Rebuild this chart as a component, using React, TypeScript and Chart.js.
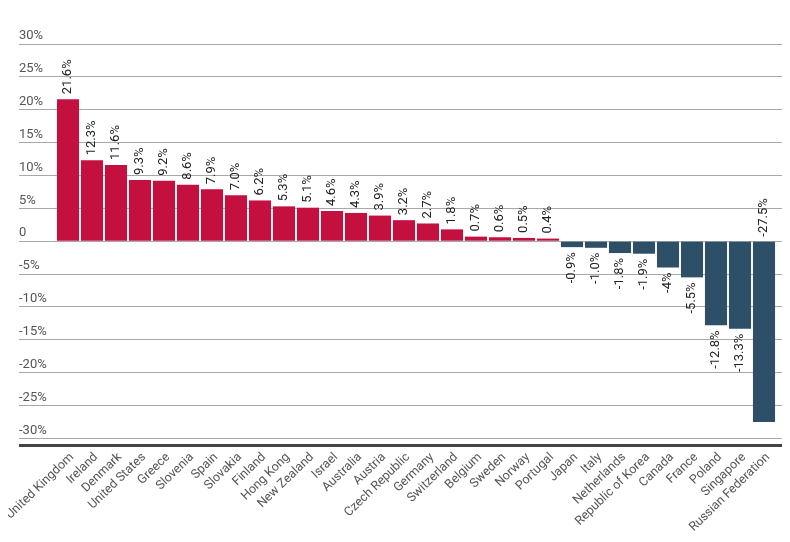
import React, { useEffect, useRef } from "react";
import { Chart, registerables } from "chart.js";

Chart.register(...registerables);

const countries = [
  "United Kingdom", "Ireland", "Denmark", "United States", "Greece", "Slovenia", "Spain", "Slovakia",
  "Finland", "Hong Kong", "New Zealand", "Israel", "Australia", "Austria", "Czech Republic", "Germany",
  "Switzerland", "Belgium", "Sweden", "Norway", "Portugal", "Japan", "Italy", "Netherlands",
  "Republic of Korea", "Canada", "France", "Poland", "Singapore", "Russian Federation",
];
const changes = [
  21.6, 12.3, 11.6, 9.3, 9.2, 8.6, 7.9, 7.0, 6.2, 5.3, 5.1, 4.6, 4.3, 3.9, 3.2, 2.7,
  1.8, 0.7, 0.6, 0.5, 0.4, -0.9, -1.0, -1.8, -1.9, -4, -5.5, -12.8, -13.3, -27.5,
];
const valueLabels = [
  "21.6%", "12.3%", "11.6%", "9.3%", "9.2%", "8.6%", "7.9%", "7.0%", "6.2%", "5.3%", "5.1%", "4.6%",
  "4.3%", "3.9%", "3.2%", "2.7%", "1.8%", "0.7%", "0.6%", "0.5%", "0.4%", "-0.9%", "-1.0%", "-1.8%",
  "-1.9%", "-4%", "-5.5%", "-12.8%", "-13.3%", "-27.5%",
];
const yTickValues = [-31, -30, -25, -20, -15, -10, -5, 0, 5, 10, 15, 20, 25, 30];
const yMin = -31;
const yMax = 30;

const POS_COLOR = "#c4103e";
const NEG_COLOR = "#2d5068";
const GRID_COLOR = "#a8a8a8";
const BASE_COLOR = "#444444";
const FONT = "Roboto";

const valueLabelPlugin = {
  id: "valueLabels",
  afterDatasetsDraw(chart: any) {
    const { ctx, chartArea } = chart;
    const meta = chart.getDatasetMeta(0);
    ctx.save();
    ctx.font = `13px ${FONT}`;
    ctx.fillStyle = "#222222";
    ctx.textBaseline = "middle";
    meta.data.forEach((bar: any, i: number) => {
      const v = changes[i];
      const text = valueLabels[i];
      const w = ctx.measureText(text).width;
      const gap = 5;
      let anchorY: number;
      let align: CanvasTextAlign;
      if (v >= 0) {
        anchorY = bar.y - gap;
        align = "left";
      } else {
        const end = Math.max(bar.y, bar.base);
        if (end + gap + w > chartArea.bottom - 4) {
          anchorY = Math.min(bar.y, bar.base) - gap;
          align = "left";
        } else {
          anchorY = end + gap;
          align = "right";
        }
      }
      ctx.save();
      ctx.translate(bar.x, anchorY);
      ctx.rotate(-Math.PI / 2);
      ctx.textAlign = align;
      ctx.fillText(text, 0, 0);
      ctx.restore();
    });
    ctx.restore();
  },
};

const gridColor = (c: any) => (c.tick && c.tick.value === yMin ? BASE_COLOR : GRID_COLOR);
const gridWidth = (c: any) => (c.tick && c.tick.value === yMin ? 3 : 1);

const noPad = (s: any) => {
  s.paddingLeft = 0;
  s.paddingRight = 0;
  s.paddingTop = 0;
  s.paddingBottom = 0;
};
const setTicks = (s: any) => {
  s.ticks = yTickValues.map((v) => ({ value: v }));
};

export default function App() {
  const ref = useRef<HTMLCanvasElement>(null);
  useEffect(() => {
    if (!ref.current) return;
    const chart = new Chart(ref.current, {
      type: "bar",
      data: {
        labels: countries,
        datasets: [
          {
            data: changes,
            backgroundColor: changes.map((v) => (v >= 0 ? POS_COLOR : NEG_COLOR)),
            borderWidth: 0,
            categoryPercentage: 1,
            barPercentage: 0.92,
          },
        ],
      },
      options: {
        animation: false,
        responsive: true,
        maintainAspectRatio: false,
        layout: { padding: { left: 19, top: 44, right: 7, bottom: 0 } },
        plugins: { legend: { display: false }, tooltip: { enabled: false } },
        scales: {
          x: {
            grid: { display: false, drawTicks: false },
            border: { display: false },
            ticks: {
              autoSkip: false,
              minRotation: 44,
              maxRotation: 44,
              padding: 5,
              labelOffset: 4,
              color: "#555555",
              font: { family: FONT, size: 12.5 },
            },
            afterFit: (s: any) => {
              s.height = 97;
              noPad(s);
            },
          },
          y: {
            position: "left",
            min: yMin,
            max: yMax,
            border: { display: false },
            grid: {
              color: gridColor,
              lineWidth: gridWidth,
              tickColor: gridColor,
              tickWidth: gridWidth,
              tickLength: 37,
              drawTicks: true,
            },
            afterBuildTicks: setTicks,
            ticks: {
              crossAlign: "far",
              padding: 0,
              labelOffset: -8,
              color: "#555555",
              font: { family: FONT, size: 13 },
              callback: (v: any) => (v === yMin ? "" : v === 0 ? "0" : `${v}%`),
            },
            afterFit: (s: any) => {
              s.width = 37;
              noPad(s);
            },
          },
          y2: {
            position: "right",
            min: yMin,
            max: yMax,
            border: { display: false },
            grid: {
              drawOnChartArea: false,
              color: gridColor,
              lineWidth: gridWidth,
              tickColor: gridColor,
              tickWidth: gridWidth,
              tickLength: 7,
            },
            afterBuildTicks: setTicks,
            ticks: { display: false },
            afterFit: (s: any) => {
              s.width = 7;
              noPad(s);
            },
          },
        },
      } as any,
      plugins: [valueLabelPlugin],
    });
    return () => chart.destroy();
  }, []);
  return (
    <div style={{ width: 790, height: 542, margin: -8, position: "relative" }}>
      <canvas ref={ref} />
    </div>
  );
}
